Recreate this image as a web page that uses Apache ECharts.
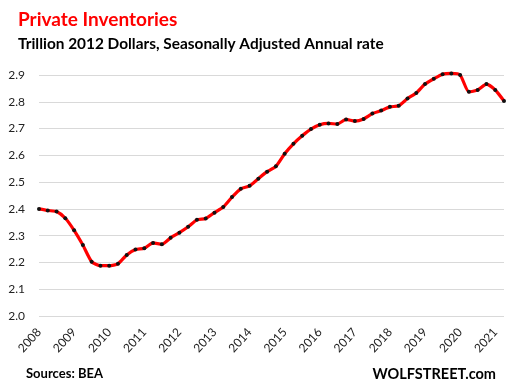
<!DOCTYPE html>
<html>
<head>
<meta charset="utf-8">
<script src="https://cdn.jsdelivr.net/npm/echarts@6/dist/echarts.min.js"></script>
<style>html,body{margin:0;padding:0;background:#fff}#c{width:512px;height:392px}</style>
</head>
<body>
<div id="c"></div>
<script>
var years = [2008,2009,2010,2011,2012,2013,2014,2015,2016,2017,2018,2019,2020,2021];
var quarters = ['Q1','Q2','Q3','Q4'];
var values = [2.400, 2.394, 2.390, 2.365, 2.320, 2.265, 2.203, 2.188, 2.188, 2.195, 2.228, 2.248,
  2.253, 2.273, 2.268, 2.292, 2.311, 2.333, 2.359, 2.364, 2.386, 2.407,
  2.444, 2.475, 2.486, 2.513, 2.539, 2.559, 2.606, 2.643, 2.673, 2.698, 2.714,
  2.719, 2.717, 2.734, 2.728, 2.736, 2.756, 2.767, 2.781, 2.785,
  2.812, 2.833, 2.866, 2.886, 2.903, 2.906, 2.900, 2.837, 2.844, 2.866, 2.844, 2.803];
var yTicks = [2.0, 2.1, 2.2, 2.3, 2.4, 2.5, 2.6, 2.7, 2.8, 2.9];

var categories = [];
years.forEach(function (y) { quarters.forEach(function (q) { categories.push(y + ' ' + q); }); });
categories = categories.slice(0, values.length);

var chart = echarts.init(document.getElementById('c'), null, {renderer: 'canvas'});
chart.setOption({
  animation: false,
  backgroundColor: '#fff',
  textStyle: {fontFamily: 'Lato'},
  title: [
    {text: 'Private Inventories', left: 13, top: 5,
     textStyle: {color: '#ff0000', fontSize: 19, fontWeight: 'bold', fontFamily: 'Lato'}},
    {text: 'Trillion 2012 Dollars, Seasonally Adjusted Annual rate', left: 13, top: 32,
     textStyle: {color: '#000', fontSize: 15.4, fontWeight: 'bold', fontFamily: 'Lato'}}
  ],
  graphic: [
    {type: 'text', left: 26, top: 367, style: {text: 'Sources: BEA', fill: '#000', font: 'bold 13px Lato'}},
    {type: 'text', right: 16, top: 367, style: {text: 'WOLFSTREET.com', fill: '#000', font: 'bold 14.5px Lato'}}
  ],
  grid: {left: 39, right: 8, top: 75, bottom: 76},
  xAxis: {
    type: 'category',
    data: categories,
    boundaryGap: false,
    axisLine: {show: false},
    axisTick: {show: false},
    axisLabel: {
      interval: 3, rotate: 48, margin: 14, color: '#222', fontSize: 12, fontFamily: 'Lato',
      formatter: function (v) { return v.split(' ')[0]; }
    },
    splitLine: {show: false}
  },
  yAxis: {
    type: 'value',
    min: 2.0, max: 2.9, interval: 0.1,
    axisLine: {show: false},
    axisTick: {show: false},
    axisLabel: {margin: 14, color: '#222', fontSize: 12, fontFamily: 'Lato',
      formatter: function (v) { return v.toFixed(1); }},
    splitLine: {lineStyle: {color: '#d9d9d9', width: 1}}
  },
  series: [{
    type: 'line',
    data: values,
    clip: false,
    smooth: 0.2,
    lineStyle: {color: '#ff0000', width: 3.2},
    symbol: 'circle',
    symbolSize: 4,
    itemStyle: {color: '#111', borderWidth: 0},
    showSymbol: true
  }]
});
</script>
</body>
</html>
